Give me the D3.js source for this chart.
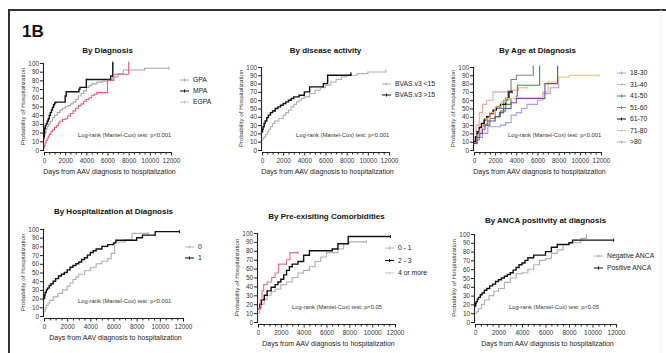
<!DOCTYPE html>
<html>
<head>
<meta charset="utf-8">
<script src="https://cdn.jsdelivr.net/npm/d3@7"></script>
<style>
  body { margin: 0; background: #fff; }
  svg { display: block; font-family: "Liberation Sans", Arial, sans-serif; }
  .tick text { fill: #333; }
</style>
</head>
<body>
<div class="chart"></div>
<script>
// ---- data: [days, probability %] steps ----
var xTicks = [0, 2000, 4000, 6000, 8000, 10000, 12000];
var yTicks = [0, 10, 20, 30, 40, 50, 60, 70, 80, 90, 100];
var logRankLabels = ["Log-rank (Mantel-Cox) test: p<0.001", "Log-rank (Mantel-Cox) test: p<0.001",
  "Log-rank (Mantel-Cox) test: p<0.001", "Log-rank (Mantel-Cox) test: p<0.001",
  "Log-rank (Mantel-Cox) test: p<0.05", "Log-rank (Mantel-Cox) test: p<0.05"];

// By Diagnosis
var gpa = [[0,12],[50,17],[100,20],[200,24],[300,27],[450,30],[600,33],[800,37],[1000,40],[1250,43],[1500,46],[1750,48],[2000,50],[2250,51],[2500,53],[2750,55],[3000,58],[3250,62],[3500,65],[3750,68],[4000,72],[4250,74],[4500,76],[5000,78],[5500,79],[6000,80],[6500,84],[7000,88],[7500,92],[9400,92],[9500,94],[11800,94]];
var mpa = [[0,15],[30,20],[60,25],[120,28],[200,30],[300,33],[400,36],[500,40],[600,43],[700,46],[800,49],[900,52],[1000,54],[1100,55],[1900,55],[2000,62],[2100,67],[3200,67],[3300,70],[3400,72],[3900,72],[4000,81],[6200,81],[6300,85],[6500,100]];
var egpa = [[0,3],[50,5],[100,8],[200,11],[300,13],[400,16],[500,18],[650,21],[800,23],[1000,26],[1200,28],[1350,31],[1500,33],[1750,35],[2000,36],[2250,39],[2500,42],[2750,45],[3000,48],[3250,51],[3500,53],[3750,56],[4000,58],[4250,60],[4500,63],[4750,64],[5000,66],[5900,66],[6000,80],[6600,87],[7900,87],[8000,100]];

// By disease activity
var bvasLow = [[0,12],[100,14],[200,16],[350,19],[500,22],[650,25],[800,28],[1000,32],[1200,35],[1600,38],[2000,42],[2250,45],[2500,48],[2750,52],[3000,55],[3250,58],[3500,60],[3750,62],[4000,64],[4500,68],[5000,72],[5500,75],[6000,78],[6500,82],[7000,85],[7500,88],[8000,90],[9000,92],[10000,94],[11700,95]];
var bvasHigh = [[0,22],[50,25],[100,28],[200,32],[300,35],[450,39],[600,42],[800,45],[1000,47],[1250,50],[1500,52],[1750,54],[2000,56],[2250,58],[2500,60],[2750,62],[3000,64],[3500,66],[4000,70],[4500,76],[5700,76],[5800,80],[6100,80],[6200,90],[8300,90],[8400,92]];

// By Age at Diagnosis
var age18 = [[0,10],[300,15],[800,20],[1300,28],[2500,30],[3000,33],[3500,42],[4000,45],[4500,50],[5000,55],[6000,60],[6500,68],[7200,75],[8000,78]];
var age31 = [[0,15],[200,30],[500,45],[800,55],[1200,60],[1800,70],[3000,70],[3200,72],[4000,72],[4200,75],[5000,75]];
var age41 = [[0,10],[300,20],[800,30],[1500,38],[2000,40],[2500,47],[3000,55],[3500,62],[4000,65],[4100,78],[6000,78],[6200,100]];
var age51 = [[0,12],[500,28],[1000,38],[2000,50],[2800,60],[3200,70],[3500,85],[4000,90],[5500,90],[5600,100]];
var age61 = [[0,10],[150,16],[300,22],[500,27],[700,32],[950,36],[1200,40],[1500,44],[1800,48],[2100,52],[2500,55],[3000,62],[3300,70],[3600,70]];
var age71 = [[0,8],[300,18],[550,24],[800,30],[1150,38],[1500,45],[2000,52],[2600,58],[3000,62],[4000,63],[6000,63],[6500,70],[7000,82],[8000,88],[9000,90],[11800,90]];
var age80 = [[0,8],[300,15],[550,20],[800,25],[1050,30],[1300,35],[2000,40],[2400,45],[2800,50],[3500,57],[4000,62],[6500,62],[6700,80],[7800,80],[7900,100]];

// By Hospitalization at Diagnosis
var hosp0 = [[0,5],[100,9],[200,12],[350,15],[500,18],[800,22],[1200,26],[1600,30],[2000,34],[2250,38],[2500,42],[2750,45],[3000,48],[3500,52],[4000,56],[4500,60],[5000,63],[5500,66],[5800,72],[6100,85],[7000,88],[7600,95],[9000,95]];
var hosp1 = [[0,20],[50,24],[100,27],[200,30],[300,32],[450,35],[600,37],[800,40],[1000,43],[1250,46],[1500,48],[1750,50],[2000,53],[2250,56],[2500,58],[2750,60],[3000,62],[3250,65],[3500,67],[3750,70],[4000,73],[4250,75],[4500,77],[5000,80],[5500,82],[6000,84],[6200,87],[7800,87],[8000,90],[8500,93],[9500,93],[9600,97],[11700,97]];

// By Pre-exisiting Comorbidities
var comorb01 = [[0,10],[150,15],[300,20],[550,25],[800,30],[1150,34],[1500,37],[2000,42],[2500,45],[3000,50],[3500,55],[4000,58],[4500,62],[5000,68],[5500,73],[6000,78],[7000,82],[7500,88],[8000,90],[9500,90]];
var comorb23 = [[0,15],[150,20],[300,25],[550,30],[800,35],[1150,39],[1500,42],[1750,45],[2000,48],[2250,53],[2500,58],[2750,62],[3000,65],[3500,68],[4000,75],[4500,80],[6000,80],[6500,82],[7000,88],[7800,88],[7900,96],[11600,96]];
var comorb4 = [[0,15],[200,25],[350,35],[500,42],[800,45],[1200,50],[1500,55],[1800,65],[2500,70],[2800,78],[3500,78]];

// By ANCA positivity at diagnosis
var ancaNeg = [[0,10],[150,12],[300,15],[550,20],[800,25],[1200,30],[1600,35],[2000,38],[2500,45],[3000,50],[3500,55],[4000,56],[4500,60],[5000,65],[5500,70],[6000,72],[6500,78],[7000,82],[7500,88],[8000,90],[9000,95],[9500,98]];
var ancaPos = [[0,18],[50,21],[100,23],[200,26],[300,28],[450,31],[600,33],[800,36],[1000,38],[1250,41],[1500,43],[1750,46],[2000,48],[2250,50],[2500,52],[2750,54],[3000,56],[3250,59],[3500,62],[3750,65],[4000,67],[4250,70],[4500,73],[5000,76],[6000,80],[6500,85],[7000,88],[8000,90],[8300,93],[11800,93]];

// ---- panel layout ----
var panels = [
  { title: "By Diagnosis", px: [44, 171], py: [150, 63], ty: 53, leg: [180, 80, 11],
    series: [["GPA", gpa, "#a8a8a8"], ["MPA", mpa, "#111"], ["EGPA", egpa, "#ee5a7c"]],
    legColors: ["#a8a8a8", "#111", "#f0a8b8"] },
  { title: "By disease activity", px: [262, 389], py: [150, 67], ty: 53, leg: [382, 84, 11],
    series: [["BVAS.v3 <15", bvasLow, "#b0b0b0"], ["BVAS.v3 >15", bvasHigh, "#111"]] },
  { title: "By Age at Diagnosis", px: [474, 601], py: [150, 67], ty: 53, leg: [617, 73, 11.5],
    series: [["18-30", age18, "#a0a0e8"], ["31-40", age31, "#f2a0a0"], ["41-50", age41, "#2ca02c"],
      ["51-60", age51, "#808080"], ["61-70", age61, "#111"], ["71-80", age71, "#f2c060"], [">80", age80, "#7b3fc0"]],
    legColors: ["#a0a0e8", "#d0b8b8", "#2ca02c", "#808080", "#111", "#c8c8c8", "#b0a0d8"] },
  { title: "By Hospitalization at Diagnosis", px: [44, 183], py: [316, 229], ty: 214, leg: [185, 247, 11],
    series: [["0", hosp0, "#b0b0b0"], ["1", hosp1, "#111"]] },
  { title: "By Pre-exisiting Comorbidities", px: [258, 395], py: [322, 233], ty: 219, leg: [385, 248, 12.5],
    series: [["0 - 1", comorb01, "#b0b0b0"], ["2 - 3", comorb23, "#111"], ["4 or more", comorb4, "#ee6a8a"]],
    legColors: ["#b0b0b0", "#111", "#c8c8c8"] },
  { title: "By ANCA positivity at diagnosis", px: [475, 616], py: [322, 234], ty: 223, leg: [594, 256, 12],
    series: [["Negative ANCA", ancaNeg, "#b0b0b0"], ["Positive ANCA", ancaPos, "#111"]] }
];

var svg = d3.select(".chart")
  .append("svg")
  .attr("width", 666)
  .attr("height", 353);

svg.append("rect").attr("width", 666).attr("height", 353).attr("fill", "#fff");

// outer frame
svg.append("path")
  .attr("d", "M9,353 V10 H666")
  .attr("fill", "none")
  .attr("stroke", "#333")
  .attr("stroke-width", 2);
svg.append("line")
  .attr("x1", 661).attr("x2", 661).attr("y1", 10).attr("y2", 353)
  .attr("stroke", "#eee");

svg.append("text")
  .attr("x", 22).attr("y", 37)
  .attr("font-size", 17).attr("font-weight", "bold")
  .attr("fill", "#111")
  .text("1B");

panels.forEach(function (p, i) {
  var x = d3.scaleLinear().domain([0, 12000]).range(p.px);
  var y = d3.scaleLinear().domain([0, 100]).range(p.py);
  var g = svg.append("g");

  // axes
  var xAxis = d3.axisBottom(x).tickValues(d3.range(0, 12001, 500))
    .tickSize(2.5).tickFormat(function (d) { return xTicks.indexOf(d) >= 0 ? d : ""; });
  var gx = g.append("g")
    .attr("transform", `translate(0, ${p.py[0] + 2})`)
    .call(xAxis);
  gx.selectAll(".tick line").attr("y2", function (d) { return xTicks.indexOf(d) >= 0 ? 3.5 : 2.5; });

  var yAxis = d3.axisLeft(y).tickValues(yTicks).tickSize(3);
  var gy = g.append("g")
    .attr("transform", `translate(${p.px[0] - 1}, 0)`)
    .call(yAxis);

  [gx, gy].forEach(function (a) {
    a.select(".domain").attr("stroke", "#222").attr("stroke-width", 1.1);
    a.selectAll(".tick line").attr("stroke", "#222");
    a.selectAll(".tick text").attr("font-size", 6.4).attr("font-family", "Liberation Sans, Arial");
  });
  gx.selectAll(".tick text").attr("dy", "0.9em");
  gy.selectAll(".tick text").attr("x", -4);

  // step curves
  var line = d3.line()
    .x(d => x(d[0]))
    .y(d => y(d[1]))
    .curve(d3.curveStepAfter);

  p.series.forEach(function (s) {
    g.append("path")
      .datum(s[1])
      .attr("d", line)
      .attr("fill", "none")
      .attr("stroke", s[2])
      .attr("stroke-width", s[2] == "#111" ? 1.4 : 1.1);
    var last = s[1][s[1].length - 1];
    g.append("line")
      .attr("x1", x(last[0])).attr("x2", x(last[0]))
      .attr("y1", y(last[1]) - 1.5).attr("y2", y(last[1]) + 1.5)
      .attr("stroke", s[2]);
  });

  // titles
  g.append("text")
    .attr("x", (p.px[0] + p.px[1]) / 2)
    .attr("y", p.ty)
    .attr("text-anchor", "middle")
    .attr("font-size", 8).attr("font-weight", "bold")
    .attr("fill", "#111")
    .text(p.title);

  g.append("text")
    .attr("x", (p.px[0] + p.px[1]) / 2 + 2)
    .attr("y", p.py[0] + 24)
    .attr("text-anchor", "middle")
    .attr("font-size", 7)
    .attr("fill", "#222")
    .text("Days from AAV diagnosis to hospitalization");

  g.append("text")
    .attr("transform", `translate(${p.px[0] - 19}, ${(p.py[0] + p.py[1]) / 2}) rotate(-90)`)
    .attr("text-anchor", "middle")
    .attr("font-size", 6.2)
    .attr("fill", "#333")
    .text("Probability of Hospitalization");

  g.append("text")
    .attr("x", p.px[0] + 34)
    .attr("y", p.py[0] - 13)
    .attr("font-size", 5.8)
    .attr("fill", "#333")
    .text(logRankLabels[i]);

  // legend
  p.series.forEach(function (s, j) {
    var c = p.legColors ? p.legColors[j] : s[2];
    var ly = p.leg[1] + j * p.leg[2];
    g.append("line")
      .attr("x1", p.leg[0]).attr("x2", p.leg[0] + 9)
      .attr("y1", ly).attr("y2", ly)
      .attr("stroke", c).attr("stroke-width", 1);
    g.append("line")
      .attr("x1", p.leg[0] + 4.5).attr("x2", p.leg[0] + 4.5)
      .attr("y1", ly - 1.5).attr("y2", ly + 1.5)
      .attr("stroke", c);
    g.append("text")
      .attr("x", p.leg[0] + 13)
      .attr("y", ly + 2.3)
      .attr("font-size", 6.8)
      .attr("fill", "#222")
      .text(s[0]);
  });
});
</script>
</body>
</html>
